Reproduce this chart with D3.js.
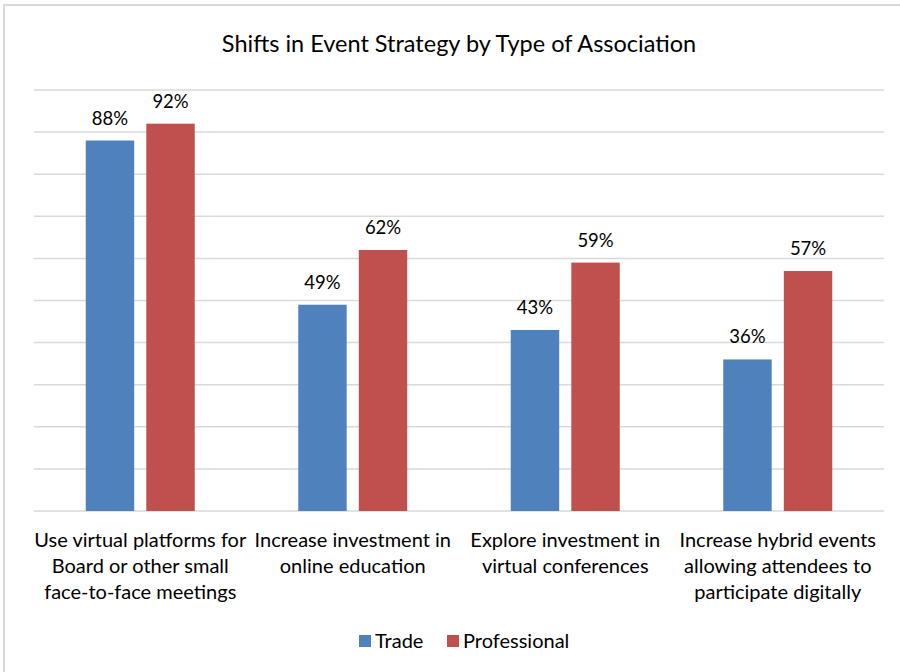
<!DOCTYPE html>
<html>
<head>
<meta charset="utf-8">
<script src="https://cdn.jsdelivr.net/npm/d3@7"></script>
<style>
  body { margin: 0; background: #fff; }
  text { font-family: Lato, "Open Sans", sans-serif; fill: #000; }
</style>
</head>
<body>
<div id="chart"></div>
<script>
// data
const categories = [
  ["Use virtual platforms for", "Board or other small", "face-to-face meetings"],
  ["Increase investment in", "online education"],
  ["Explore investment in", "virtual conferences"],
  ["Increase hybrid events", "allowing attendees to", "participate digitally"]
];
const seriesNames = ["Trade", "Professional"];
const trade = [88, 49, 43, 36];
const professional = [92, 62, 59, 57];
const gridTicks = [0, 10, 20, 30, 40, 50, 60, 70, 80, 90, 100];
const colors = ["#4f81bd", "#c0504d"];

let w = 900, h = 672;
let plotLeft = 34, plotRight = 884, plotTop = 90, plotBottom = 511;

const svg = d3.select("#chart").append("svg")
  .attr("width", w)
  .attr("height", h);

// chart border (top + left visible)
svg.append("rect")
  .attr("x", 4).attr("y", 5)
  .attr("width", 920).attr("height", 700)
  .style("fill", "none")
  .style("stroke", "#d9d9d9")
  .style("stroke-width", 2);

let idx = categories.map((d, i) => i);

let x0 = d3.scaleBand()
  .domain(idx)
  .range([plotLeft, plotRight]);

let groupW = 109;
let x1 = d3.scaleBand()
  .domain(seriesNames)
  .range([0, groupW])
  .paddingInner(0.2);

let y = d3.scaleLinear()
  .domain([0, 100])
  .range([plotBottom, plotTop]);

// gridlines
svg.append("g")
  .selectAll("line")
  .data(gridTicks)
  .enter()
  .append("line")
  .attr("x1", plotLeft)
  .attr("x2", plotRight)
  .attr("y1", d => y(d))
  .attr("y2", d => y(d))
  .style("stroke", "#d9d9d9")
  .style("stroke-width", 1.5);

const values = [trade, professional];
let off = (x0.bandwidth() - groupW) / 2;

seriesNames.forEach((s, si) => {
  let g = svg.append("g");
  g.selectAll("rect")
    .data(values[si])
    .enter()
    .append("rect")
    .attr("x", (d, i) => x0(i) + off + x1(s))
    .attr("y", d => y(d))
    .attr("width", x1.bandwidth())
    .attr("height", d => y(0) - y(d))
    .style("fill", colors[si]);

  g.selectAll("text")
    .data(values[si])
    .enter()
    .append("text")
    .attr("x", (d, i) => x0(i) + off + x1(s) + x1.bandwidth() / 2)
    .attr("y", d => y(d) - 16)
    .attr("text-anchor", "middle")
    .style("font-size", "18.5px")
    .text(d => d + "%");
});

// category labels
categories.forEach((lines, i) => {
  let t = svg.append("text")
    .attr("text-anchor", "middle")
    .style("font-size", "20px");
  lines.forEach((ln, j) => {
    t.append("tspan")
      .attr("x", x0(i) + x0.bandwidth() / 2)
      .attr("y", 547 + j * 26)
      .text(ln);
  });
});

// title
svg.append("text")
  .attr("x", (plotLeft + plotRight) / 2)
  .attr("y", 52)
  .attr("text-anchor", "middle")
  .style("font-size", "23.5px")
  .text("Shifts in Event Strategy by Type of Association");

// legend
let legendX = [359, 447];
seriesNames.forEach((s, si) => {
  svg.append("rect")
    .attr("x", legendX[si])
    .attr("y", 635)
    .attr("width", 12)
    .attr("height", 12)
    .style("fill", colors[si]);
  svg.append("text")
    .attr("x", legendX[si] + 16)
    .attr("y", 648)
    .style("font-size", "20px")
    .text(s);
});
</script>
</body>
</html>
